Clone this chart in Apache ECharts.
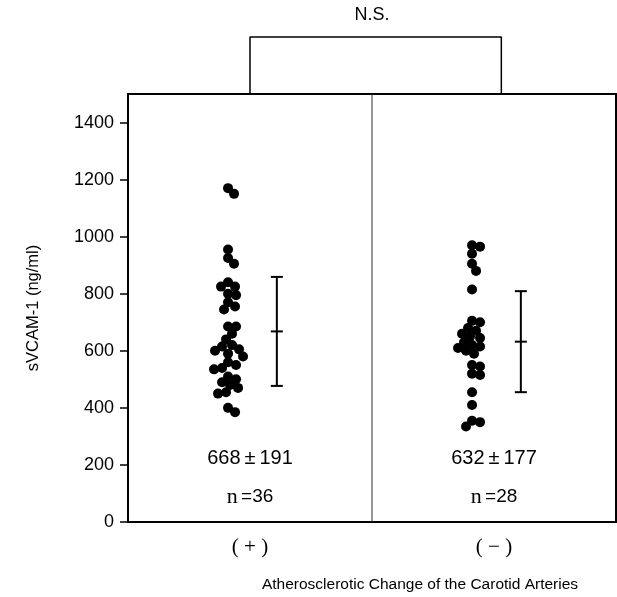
<!DOCTYPE html>
<html>
<head>
<meta charset="utf-8">
<script src="https://cdn.jsdelivr.net/npm/echarts@6/dist/echarts.min.js"></script>
<style>
  html, body { margin: 0; padding: 0; background: #fff; }
  #chart { width: 617px; height: 597px; }
</style>
</head>
<body>
<div id="chart"></div>
<script>
// groups on the x axis
var groups = ['( + )', '( \u2212 )'];
// sVCAM-1 (ng/ml)
var positiveValues = [1170, 1150, 955, 925, 905, 840, 825, 825, 800, 795, 770, 755, 745,
    685, 685, 660, 640, 620, 615, 605, 600, 590, 580, 560, 550, 540, 535, 510, 500,
    490, 480, 470, 455, 450, 400, 385];
var negativeValues = [970, 965, 940, 905, 880, 815, 705, 700, 680, 670, 660, 650, 645,
    630, 620, 615, 610, 600, 590, 550, 545, 520, 515, 455, 410, 355, 350, 335];
// mean +- SD as printed
var means = [668, 632];
var sds = [191, 177];
var counts = [36, 28];
var yTicks = [0, 200, 400, 600, 800, 1000, 1200, 1400];

var SANS = 'Liberation Sans, Arial, Helvetica, sans-serif';
var SERIF = 'Liberation Serif, Times New Roman, serif';

// layout on the hidden 0..2 value axis
var dotCenter = [0.41, 1.41];
var barX = [0.61, 1.61];
var bracketX = [0.5, 1.53];
var DOT = 10;

var chart = echarts.init(document.getElementById('chart'));

function dotSeries(vals, gi) {
    return {
        type: 'scatter',
        xAxisIndex: 0,
        symbol: 'circle',
        symbolSize: DOT,
        itemStyle: { color: '#000', opacity: 1 },
        silent: true,
        data: vals.map(function (v) { return [dotCenter[gi], v]; })
    };
}

var option = {
    animation: false,
    backgroundColor: '#fff',
    grid: {
        left: 128, right: 1, top: 94, bottom: 75,
        show: true, borderColor: '#000', borderWidth: 2
    },
    xAxis: [
        { type: 'value', min: 0, max: 2, show: false },
        {
            type: 'category',
            data: groups,
            position: 'bottom',
            axisLine: { show: false },
            axisTick: { show: false },
            splitLine: { show: false },
            axisLabel: { margin: 15, fontFamily: SERIF, fontSize: 21, color: '#000' }
        }
    ],
    yAxis: {
        type: 'value',
        min: 0,
        max: 1500,
        name: 'sVCAM-1 (ng/ml)',
        nameLocation: 'middle',
        nameGap: 86,
        nameTextStyle: { fontFamily: SANS, fontSize: 16.5, color: '#000' },
        axisLine: { show: true, lineStyle: { color: '#000', width: 2 } },
        axisTick: { show: true, length: 8, customValues: yTicks, lineStyle: { color: '#000', width: 1.5 } },
        axisLabel: {
            customValues: yTicks, margin: 14, fontFamily: SANS, fontSize: 18, color: '#000',
            formatter: function (v) { return String(v); }
        },
        splitLine: { show: false }
    },
    graphic: [
        { type: 'text', x: 372, y: 15, silent: true,
          style: { text: 'N.S.', fill: '#000', font: '18px ' + SANS, align: 'center', verticalAlign: 'middle' } },
        { type: 'text', x: 420, y: 585, silent: true,
          style: { text: 'Atherosclerotic Change of the Carotid Arteries', fill: '#000', font: '15.5px ' + SANS, align: 'center', verticalAlign: 'middle' } }
    ],
    series: [
        // divider between groups
        {
            type: 'line', xAxisIndex: 0, symbol: 'none', silent: true,
            lineStyle: { color: '#333', width: 1 },
            data: [[1, 0], [1, 1500]]
        },
        // N.S. bracket
        {
            type: 'line', xAxisIndex: 0, symbol: 'none', silent: true, clip: false,
            lineStyle: { color: '#000', width: 1.5 },
            data: [[bracketX[0], 1500], [bracketX[0], 1700], [bracketX[1], 1700], [bracketX[1], 1500]]
        },
        dotSeries(positiveValues, 0),
        dotSeries(negativeValues, 1),
        // mean +- SD bars
        {
            type: 'custom',
            xAxisIndex: 0,
            silent: true,
            data: means.map(function (m, i) { return [barX[i], m, m - sds[i], m + sds[i]]; }),
            renderItem: function (params, api) {
                var x = api.value(0);
                var mid = api.coord([x, api.value(1)]);
                var lo = api.coord([x, api.value(2)]);
                var hi = api.coord([x, api.value(3)]);
                var hw = 6;
                var st = { stroke: '#000', lineWidth: 2 };
                return {
                    type: 'group',
                    children: [
                        { type: 'line', shape: { x1: lo[0], y1: lo[1], x2: hi[0], y2: hi[1] }, style: st },
                        { type: 'line', shape: { x1: lo[0] - hw, y1: lo[1], x2: lo[0] + hw, y2: lo[1] }, style: st },
                        { type: 'line', shape: { x1: hi[0] - hw, y1: hi[1], x2: hi[0] + hw, y2: hi[1] }, style: st },
                        { type: 'line', shape: { x1: mid[0] - hw, y1: mid[1], x2: mid[0] + hw, y2: mid[1] }, style: st }
                    ]
                };
            }
        },
        // mean +- SD and n labels
        {
            type: 'scatter', xAxisIndex: 1, symbolSize: 0, silent: true,
            itemStyle: { opacity: 1 },
            label: {
                show: true, position: 'inside', color: '#000',
                fontFamily: SANS, fontSize: 20,
                formatter: function (p) { return p.data[2]; }
            },
            data: groups.map(function (g, i) { return [g, 224, means[i] + '\u2009\u00b1\u2009' + sds[i]]; })
        },
        {
            type: 'scatter', xAxisIndex: 1, symbolSize: 0, silent: true,
            itemStyle: { opacity: 1 },
            label: {
                show: true, position: 'inside', color: '#000',
                formatter: function (p) { return '{s|n} {a|=' + p.data[2] + '}'; },
                rich: {
                    s: { fontFamily: SERIF, fontSize: 22, color: '#000' },
                    a: { fontFamily: SANS, fontSize: 19, color: '#000' }
                }
            },
            data: groups.map(function (g, i) { return [g, 88, counts[i]]; })
        }
    ]
};

chart.setOption(option);

// simple beeswarm: push overlapping dots sideways in pixel space
function swarm(vals, gi) {
    var placed = [];
    var minD = DOT - 2;
    var cx = chart.convertToPixel({ xAxisIndex: 0, yAxisIndex: 0 }, [dotCenter[gi], 0])[0];
    var order = vals.map(function (v, i) { return i; }).sort(function (a, b) { return vals[b] - vals[a]; });
    var out = [];
    order.forEach(function (i) {
        var py = chart.convertToPixel({ xAxisIndex: 0, yAxisIndex: 0 }, [0, vals[i]])[1];
        var best = 0;
        for (var k = 0; k < 60; k++) {
            var off = (k % 2 ? 1 : -1) * Math.ceil(k / 2);
            var ok = placed.every(function (p) {
                var dx = p[0] - (cx + off), dy = p[1] - py;
                return dx * dx + dy * dy >= minD * minD;
            });
            if (ok) { best = off; break; }
        }
        placed.push([cx + best, py]);
        var vx = chart.convertFromPixel({ xAxisIndex: 0, yAxisIndex: 0 }, [cx + best, py])[0];
        out[i] = [vx, vals[i]];
    });
    return out;
}

var swarmed = option.series.slice();
swarmed[2] = Object.assign({}, swarmed[2], { data: swarm(positiveValues, 0) });
swarmed[3] = Object.assign({}, swarmed[3], { data: swarm(negativeValues, 1) });
chart.setOption({ series: swarmed });
</script>
</body>
</html>
